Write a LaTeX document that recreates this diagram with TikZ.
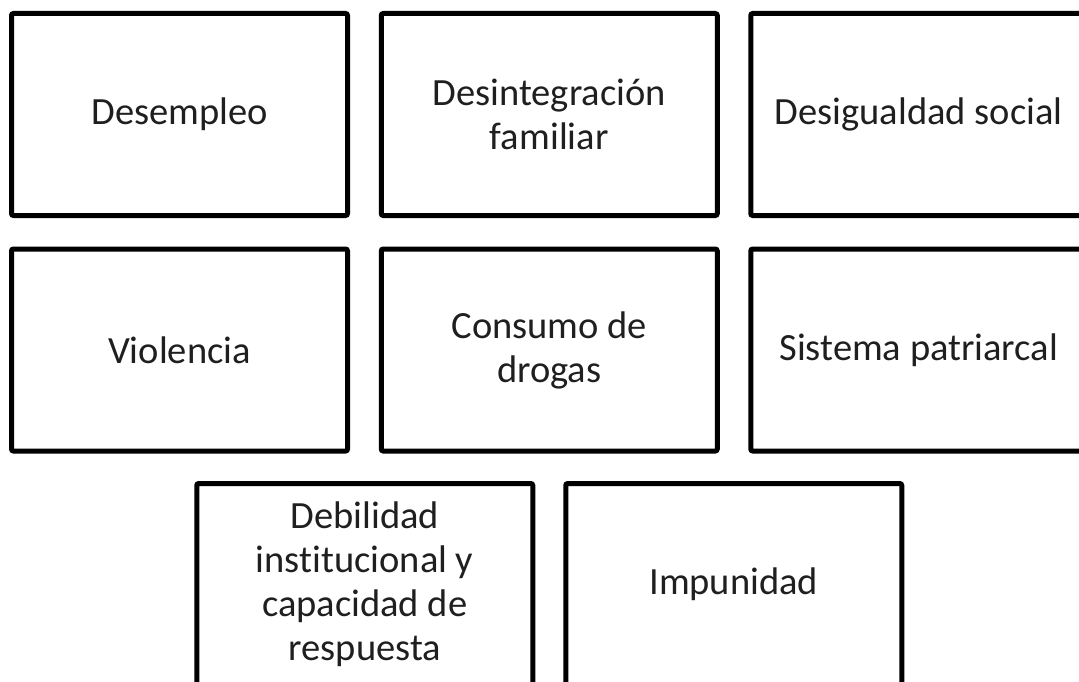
\documentclass[tikz,border=0pt]{standalone}
\usepackage{fontspec}
\setmainfont{Carlito}[Ligatures={NoCommon}]
\begin{document}
\begin{tikzpicture}[x=1pt,y=-1pt,
  causebox/.style={draw=black, line width=5pt, rounded corners=2pt,
    minimum width=336pt, minimum height=202pt, inner sep=0pt,
    align=center, text=black!88, font=\fontsize{38.5}{44}\selectfont}]
\useasboundingbox (0,0) rectangle (1079,682);
\clip (0,0) rectangle (1079,682);
\fill[white] (0,0) rectangle (1079,682);
\node[causebox] (b1) at (179.5,114.5) {Desempleo};
\node[causebox] (b2) at (549.25,114.5) {Desintegración\\familiar};
\node[causebox] (b3) at (918.75,114.5) {Desigualdad social};
\node[causebox] (b4) at (179.5,350) {Violencia};
\node[causebox] (b5) at (549.25,350) {Consumo de\\drogas};
\node[causebox] (b6) at (918.75,350) {Sistema patriarcal};
\node[causebox] (b7) at (364.75,584.5) {Debilidad\\institucional y\\capacidad de\\respuesta};
\node[causebox] (b8) at (733.75,584.5) {Impunidad};
\end{tikzpicture}
\end{document}
